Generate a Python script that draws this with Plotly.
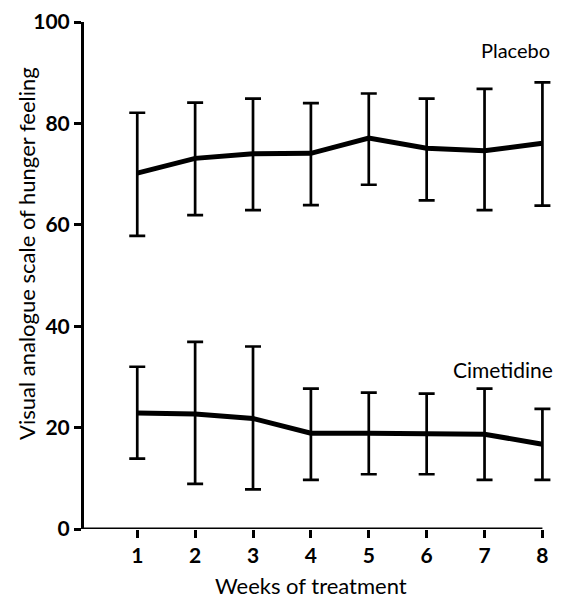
import plotly.graph_objects as go

weeks = [1, 2, 3, 4, 5, 6, 7, 8]
placebo_mean = [70.2, 73.1, 74.0, 74.1, 77.1, 75.1, 74.6, 76.1]
placebo_upper = [82.1, 84.1, 84.9, 84.0, 85.9, 84.9, 86.8, 88.1]
placebo_lower = [57.8, 61.9, 62.9, 63.9, 67.9, 64.8, 62.9, 63.8]
cimet_mean = [22.9, 22.7, 21.8, 18.9, 18.9, 18.9, 18.7, 16.7]
cimet_upper = [32.0, 36.9, 36.0, 27.7, 26.9, 26.7, 27.7, 23.7]
cimet_lower = [13.9, 8.9, 7.8, 9.7, 10.8, 10.8, 9.7, 9.7]
y_ticks = [0, 20, 40, 60, 80, 100]

FONT = "Lato"

# page offset of the plotly div (default body margin)
OFF = 8
W, H = 567 - OFF, 598 - OFF
L, T = 84 - OFF, 22 - OFF
R = W - (553.6 - OFF)
B = H - (529 - OFF)
PW, PH = W - L - R, H - T - B


def px(xp, yp):
    """page pixel -> paper coords"""
    return ((xp - OFF) - L) / PW, (H - B - (yp - OFF)) / PH


def trace(mean, up, lo):
    return go.Scatter(
        x=weeks, y=mean, mode="lines",
        line=dict(color="black", width=5),
        error_y=dict(type="data", symmetric=False,
                     array=[u - m for u, m in zip(up, mean)],
                     arrayminus=[m - l for m, l in zip(mean, lo)],
                     color="black", thickness=2.7, width=8),
        cliponaxis=False, showlegend=False)


fig = go.Figure()
fig.add_trace(trace(placebo_mean, placebo_upper, placebo_lower))
fig.add_trace(trace(cimet_mean, cimet_upper, cimet_lower))

xt = px(311, 585)
yt = px(26, 253)
pl = px(515.5, 50)
ci = px(503, 369.5)

fig.update_layout(
    width=W, height=H,
    margin=dict(l=L, r=R, t=T, b=B, autoexpand=False),
    paper_bgcolor="white", plot_bgcolor="white",
    font=dict(family=FONT, color="black", size=20),
    xaxis=dict(range=[0.08, 8.2], tickvals=weeks, ticks="outside", ticklen=8,
               tickwidth=2.5, tickcolor="black", showline=False,
               showgrid=False, zeroline=False,
               tickfont=dict(size=21, family=FONT, weight="bold")),
    yaxis=dict(range=[0, 100], tickvals=y_ticks, ticks="outside", ticklen=7,
               tickwidth=2.5, tickcolor="black", showline=True, linecolor="black",
               linewidth=3, showgrid=False, zeroline=False,
               tickfont=dict(size=21, family=FONT, weight="bold")),
    shapes=[dict(type="line", xref="x", yref="y", x0=0.08 - 0.03, x1=8, y0=0, y1=0,
                 line=dict(color="black", width=3))],
    annotations=[
        dict(text="Weeks of treatment", x=xt[0], y=xt[1], xref="paper", yref="paper",
             xanchor="center", yanchor="middle", showarrow=False, font=dict(size=22)),
        dict(text="Visual analogue scale of hunger feeling", x=yt[0], y=yt[1],
             xref="paper", yref="paper", xanchor="center", yanchor="middle",
             showarrow=False, textangle=-90, font=dict(size=22)),
        dict(text="Placebo", x=pl[0], y=pl[1], xref="paper", yref="paper",
             xanchor="center", yanchor="middle", showarrow=False, font=dict(size=20)),
        dict(text="Cimetidine", x=ci[0], y=ci[1], xref="paper", yref="paper",
             xanchor="center", yanchor="middle", showarrow=False, font=dict(size=21)),
    ],
)

fig.write_html("out.html")
